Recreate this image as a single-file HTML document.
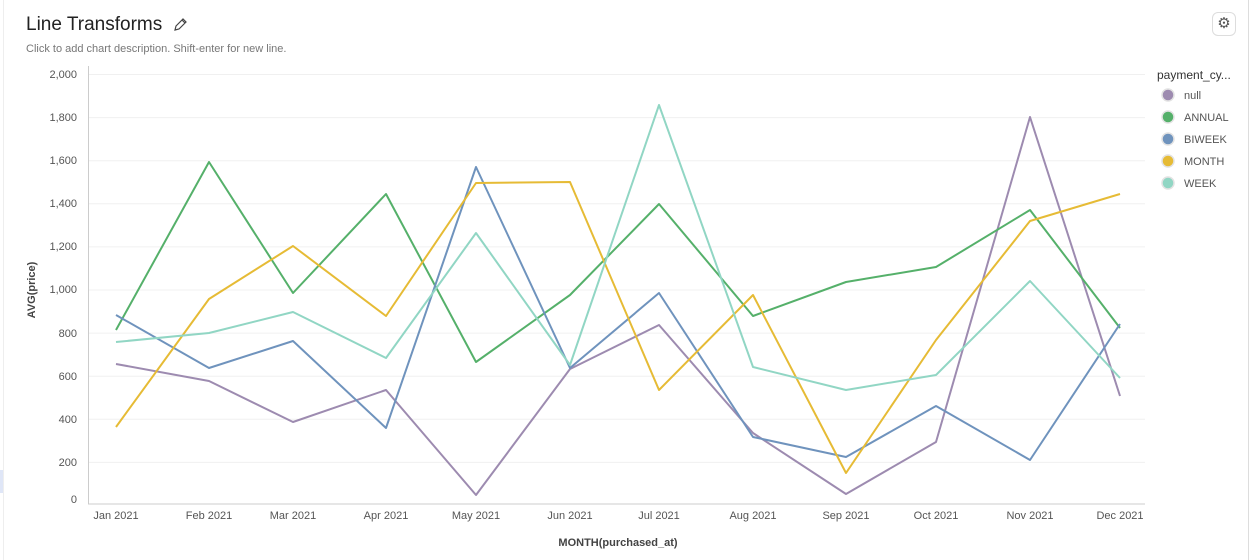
<!DOCTYPE html>
<html><head><style>
body{margin:0;width:1253px;height:560px;background:#fff;font-family:"Liberation Sans",sans-serif;overflow:hidden;position:relative}
.t{position:absolute;left:26px;top:14px;font-size:19px;color:#222}
.d{position:absolute;left:26px;top:43px;font-size:11px;color:#777}
</style></head><body>
<div style="position:absolute;left:3px;top:0;width:1px;height:560px;background:#eee"></div>
<div style="position:absolute;left:1248px;top:0;width:1px;height:560px;background:#ddd"></div>
<div style="position:absolute;left:0;top:470px;width:3px;height:23px;background:#dfe6f7"></div>
<div class="t">Line Transforms</div>
<svg style="position:absolute;left:172px;top:17px" width="16" height="16" viewBox="0 0 16 16"><path d="M3 13 L4 9 L11 2 L14 5 L7 12 Z M10 3 L13 6" fill="none" stroke="#444" stroke-width="1.2"/></svg>
<div class="d">Click to add chart description. Shift-enter for new line.</div>
<div style="position:absolute;left:1212px;top:12px;width:22px;height:22px;border:1px solid #ddd;border-radius:6px;text-align:center;line-height:22px;font-size:15px;color:#555">⚙</div>
<svg width="1253" height="560" style="position:absolute;left:0;top:0" font-family="Liberation Sans, sans-serif">
<g stroke="#f0f0f0" stroke-width="1">
<line x1="88" x2="1145" y1="74.5" y2="74.5"/><line x1="88" x2="1145" y1="117.6" y2="117.6"/><line x1="88" x2="1145" y1="160.7" y2="160.7"/><line x1="88" x2="1145" y1="203.8" y2="203.8"/><line x1="88" x2="1145" y1="246.9" y2="246.9"/><line x1="88" x2="1145" y1="290" y2="290"/><line x1="88" x2="1145" y1="333.1" y2="333.1"/><line x1="88" x2="1145" y1="376.2" y2="376.2"/><line x1="88" x2="1145" y1="419.3" y2="419.3"/><line x1="88" x2="1145" y1="462.4" y2="462.4"/>
</g>
<line x1="88.5" x2="88.5" y1="66" y2="504" stroke="#ccc"/>
<line x1="88" x2="1145" y1="504" y2="504" stroke="#ccc"/>
<g font-size="11" fill="#555" text-anchor="end">
<text x="77" y="78">2,000</text><text x="77" y="121">1,800</text><text x="77" y="164">1,600</text><text x="77" y="207">1,400</text><text x="77" y="250">1,200</text><text x="77" y="293">1,000</text><text x="77" y="337">800</text><text x="77" y="380">600</text><text x="77" y="423">400</text><text x="77" y="466">200</text><text x="77" y="503">0</text>
</g>
<g font-size="11" fill="#555" text-anchor="middle">
<text x="116" y="519">Jan 2021</text><text x="209" y="519">Feb 2021</text><text x="293" y="519">Mar 2021</text><text x="386" y="519">Apr 2021</text><text x="476" y="519">May 2021</text><text x="570" y="519">Jun 2021</text><text x="659" y="519">Jul 2021</text><text x="753" y="519">Aug 2021</text><text x="846" y="519">Sep 2021</text><text x="936" y="519">Oct 2021</text><text x="1030" y="519">Nov 2021</text><text x="1120" y="519">Dec 2021</text>
</g>
<text x="618" y="546" font-size="11" font-weight="bold" fill="#444" text-anchor="middle">MONTH(purchased_at)</text>
<text transform="translate(35,290) rotate(-90)" font-size="11" font-weight="bold" fill="#444" text-anchor="middle">AVG(price)</text>
<g fill="none" stroke-width="2" stroke-linejoin="round">
<polyline stroke="#9d8bb0" points="116,364 209,381 293,422 386,390 476,495 570,369 659,325 753,433 846,494 936,442 1030,117 1120,396"/>
<polyline stroke="#55b06a" points="116,330 209,162 293,293 386,194 476,362 570,295 659,204 753,316 846,282 936,267 1030,210 1120,328"/>
<polyline stroke="#6f93bd" points="116,315 209,368 293,341 386,428 476,167 570,368 659,293 753,437 846,457 936,406 1030,460 1120,324"/>
<polyline stroke="#e6bb35" points="116,427 209,299 293,246 386,316 476,183 570,182 659,390 753,295 846,473 936,340 1030,221 1120,194"/>
<polyline stroke="#91d6c4" points="116,342 209,333 293,312 386,358 476,233 570,365 659,105 753,367 846,390 936,375 1030,281 1120,378"/>
</g>
<text x="1157" y="79" font-size="12" fill="#333">payment_cy...</text>
<g font-size="11" fill="#555" stroke="#e2e2e2" stroke-width="1.5">
<circle cx="1168" cy="95" r="6" fill="#9d8bb0"/><circle cx="1168" cy="117" r="6" fill="#55b06a"/><circle cx="1168" cy="139" r="6" fill="#6f93bd"/><circle cx="1168" cy="161" r="6" fill="#e6bb35"/><circle cx="1168" cy="183" r="6" fill="#91d6c4"/>
</g>
<g font-size="11" fill="#555">
<text x="1184" y="99">null</text><text x="1184" y="121">ANNUAL</text><text x="1184" y="143">BIWEEK</text><text x="1184" y="165">MONTH</text><text x="1184" y="187">WEEK</text>
</g>
</svg>
</body></html>
